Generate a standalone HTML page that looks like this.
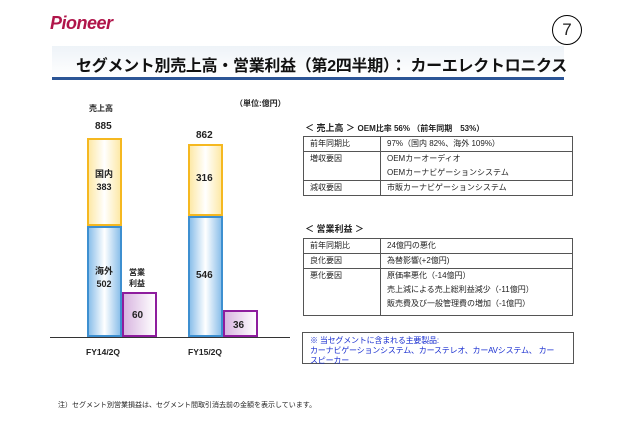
<!DOCTYPE html><html><head><meta charset="utf-8"><style>
body{margin:0;width:640px;height:424px;background:#fff;position:relative;overflow:hidden;font-family:"Liberation Sans","Noto Sans CJK JP",sans-serif;color:#222}
.a{position:absolute;white-space:nowrap}
.b{font-weight:bold}
table{position:absolute;border-collapse:collapse;font-size:8px}
td{border:1px solid #555;padding:0 0 0 6px;vertical-align:top;line-height:14px}
td:first-child{width:70px}
</style></head><body>
<div class="a b" style="left:50px;top:13px;font-size:18px;font-style:italic;color:#b0154a;letter-spacing:-0.5px">Pioneer</div>
<div class="a" style="left:552px;top:15px;width:28px;height:28px;border:1px solid #000;border-radius:50%;text-align:center;line-height:28px;font-size:17px">7</div>
<div class="a" style="left:52px;top:46px;width:512px;height:31px;background:linear-gradient(#eef3f8,#fff)"></div>
<div class="a b" style="left:76px;top:52px;font-size:16px;color:#111;letter-spacing:-0.3px">セグメント別売上高・営業利益（第2四半期）： カーエレクトロニクス</div>
<div class="a" style="left:52px;top:77px;width:512px;height:3px;background:#2c5596"></div>
<div class="a b" style="left:235px;top:98px;font-size:8px">（単位:億円）</div>
<div class="a b" style="left:89px;top:103px;font-size:8px">売上高</div>
<div class="a b" style="left:95px;top:121px;font-size:10px">885</div>
<div class="a b" style="left:196px;top:130px;font-size:10px">862</div>
<div class="a" style="left:87px;top:138px;width:31px;height:84px;border:2px solid #f5b820;background:linear-gradient(90deg,#fde9a8,#fff,#fde9a8)"></div>
<div class="a" style="left:87px;top:226px;width:31px;height:107px;border:2px solid #3d8fd0;background:linear-gradient(90deg,#8cc0ea,#fff,#8cc0ea)"></div>
<div class="a" style="left:122px;top:292px;width:31px;height:41px;border:2px solid #8e1d9e;background:linear-gradient(90deg,#d8b5e0,#fff)"></div>
<div class="a" style="left:188px;top:144px;width:31px;height:68px;border:2px solid #f5b820;background:linear-gradient(90deg,#fde9a8,#fff,#fde9a8)"></div>
<div class="a" style="left:188px;top:216px;width:31px;height:117px;border:2px solid #3d8fd0;background:linear-gradient(90deg,#8cc0ea,#fff,#8cc0ea)"></div>
<div class="a" style="left:223px;top:310px;width:31px;height:23px;border:2px solid #8e1d9e;background:linear-gradient(90deg,#d8b5e0,#fff)"></div>
<div class="a" style="left:50px;top:337px;width:240px;height:1px;background:#333"></div>
<div class="a b" style="left:95px;top:168px;font-size:9px;text-align:center;line-height:13px">国内<br>383</div>
<div class="a b" style="left:95px;top:265px;font-size:9px;text-align:center;line-height:13px">海外<br>502</div>
<div class="a b" style="left:129px;top:267px;font-size:8px;line-height:11px">営業<br>利益</div>
<div class="a b" style="left:132px;top:310px;font-size:10px">60</div>
<div class="a b" style="left:196px;top:173px;font-size:10px">316</div>
<div class="a b" style="left:196px;top:270px;font-size:10px">546</div>
<div class="a b" style="left:233px;top:320px;font-size:10px">36</div>
<div class="a b" style="left:86px;top:347px;font-size:8.5px">FY14/2Q</div>
<div class="a b" style="left:188px;top:347px;font-size:8.5px">FY15/2Q</div>
<div class="a b" style="left:305px;top:121px;font-size:9px">＜ 売上高 ＞ <span style="font-size:8px">OEM比率 56% （前年同期　53%）</span></div>
<table style="left:303px;top:136px;width:270px"><tr><td>前年同期比</td><td>97%（国内 82%、海外 109%）</td></tr><tr><td>増収要因</td><td>OEMカーオーディオ<br>OEMカーナビゲーションシステム</td></tr><tr><td>減収要因</td><td>市販カーナビゲーションシステム</td></tr></table>
<div class="a b" style="left:305px;top:222px;font-size:9px">＜ 営業利益 ＞</div>
<table style="left:303px;top:238px;width:270px"><tr><td>前年同期比</td><td>24億円の悪化</td></tr><tr><td>良化要因</td><td>為替影響(+2億円)</td></tr><tr><td style="height:46px">悪化要因</td><td>原価率悪化（-14億円）<br>売上減による売上総利益減少（-11億円）<br>販売費及び一般管理費の増加（-1億円）</td></tr></table>
<div class="a" style="left:302px;top:332px;width:272px;height:32px;border:1px solid #555;color:#1a2fd0;font-size:8px;line-height:10px;padding:3px 0 0 7px;box-sizing:border-box;letter-spacing:-0.2px">※ 当セグメントに含まれる主要製品:<br>カーナビゲーションシステム、カーステレオ、カーAVシステム、 カー<br>スピーカー</div>
<div class="a" style="left:58px;top:400px;font-size:7px">注）セグメント別営業損益は、セグメント間取引消去前の金額を表示しています。</div>
</body></html>
